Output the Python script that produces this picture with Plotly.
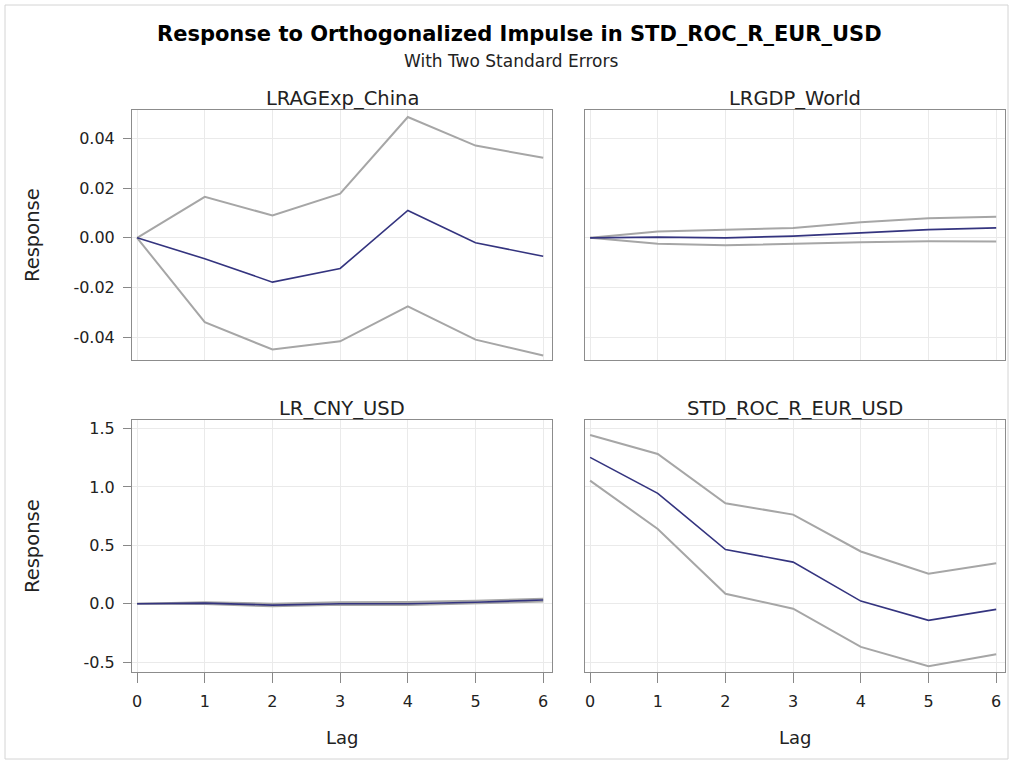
import plotly.graph_objects as go

W, H = 1013, 764

lags = [0, 1, 2, 3, 4, 5, 6]

# LRAGExp_China
china_mid = [0.0, -0.0084, -0.0178, -0.0123, 0.0110, -0.0020, -0.0074]
china_up = [0.0, 0.0165, 0.0090, 0.0178, 0.0486, 0.0371, 0.0322]
china_lo = [0.0, -0.0339, -0.0449, -0.0416, -0.0275, -0.0409, -0.0473]

# LRGDP_World
world_mid = [0.0, 0.0003, 0.0000, 0.0007, 0.0020, 0.0033, 0.0040]
world_up = [0.0, 0.0026, 0.0033, 0.0040, 0.0063, 0.0079, 0.0085]
world_lo = [0.0, -0.0024, -0.0030, -0.0023, -0.0018, -0.0014, -0.0015]

# LR_CNY_USD
cny_mid = [0.0, 0.005, -0.012, 0.000, 0.000, 0.012, 0.032]
cny_up = [0.0, 0.012, 0.000, 0.012, 0.015, 0.025, 0.042]
cny_lo = [0.0, -0.003, -0.022, -0.010, -0.012, 0.000, 0.018]

# STD_ROC_R_EUR_USD
eur_mid = [1.253, 0.945, 0.464, 0.356, 0.022, -0.143, -0.049]
eur_up = [1.444, 1.282, 0.860, 0.763, 0.447, 0.256, 0.347]
eur_lo = [1.054, 0.640, 0.085, -0.043, -0.370, -0.536, -0.433]

panel_titles = ["LRAGExp_China", "LRGDP_World", "LR_CNY_USD", "STD_ROC_R_EUR_USD"]

top_ticks = [-0.04, -0.02, 0.0, 0.02, 0.04]
top_ticktext = ["-0.04", "-0.02", "0.00", "0.02", "0.04"]
bot_ticks = [-0.5, 0.0, 0.5, 1.0, 1.5]
bot_ticktext = ["-0.5", "0.0", "0.5", "1.0", "1.5"]
x_ticks = lags
x_ticktext = [str(v) for v in lags]

title_text = "Response to Orthogonalized Impulse in STD_ROC_R_EUR_USD"
subtitle_text = "With Two Standard Errors"
y_label = "Response"
x_label = "Lag"

GRAY = "#A6A6A6"
NAVY = "#34347F"
FONT = "DejaVu Sans, Arial, sans-serif"
TXT = "#222222"

# panel pixel boxes: (x0, x1, y0, y1)
boxes = [(132, 552, 110, 360), (585, 1005, 110, 360),
         (132, 552, 420, 672), (585, 1005, 420, 672)]

fig = go.Figure()

series = [(china_up, china_lo, china_mid),
          (world_up, world_lo, world_mid),
          (cny_up, cny_lo, cny_mid),
          (eur_up, eur_lo, eur_mid)]

for i, (up, lo, mid) in enumerate(series):
    xa = "x" if i == 0 else f"x{i+1}"
    ya = "y" if i == 0 else f"y{i+1}"
    for ys in (up, lo):
        fig.add_trace(go.Scatter(x=lags, y=ys, mode="lines", xaxis=xa, yaxis=ya,
                                 line=dict(color=GRAY, width=2), showlegend=False,
                                 hoverinfo="skip"))
    fig.add_trace(go.Scatter(x=lags, y=mid, mode="lines", xaxis=xa, yaxis=ya,
                             line=dict(color=NAVY, width=1.6), showlegend=False))

layout = {}
for i, (x0, x1, y0, y1) in enumerate(boxes):
    suffix = "" if i == 0 else str(i + 1)
    top = i < 2
    left = i % 2 == 0
    layout["xaxis" + suffix] = dict(
        domain=[x0 / W, x1 / W], anchor="y" + suffix, range=[-0.075, 6.13],
        tickvals=x_ticks, ticktext=x_ticktext, showticklabels=not top,
        ticks="" if top else "outside", ticklen=10, tickcolor="#888888",
        ticklabelstandoff=5,
        showgrid=True, gridcolor="#EAEAEA", gridwidth=1, zeroline=False,
        showline=True, linecolor="#8C8C8C", linewidth=1, mirror=True,
        tickfont=dict(family=FONT, size=16, color=TXT),
    )
    layout["yaxis" + suffix] = dict(
        domain=[1 - y1 / H, 1 - y0 / H], anchor="x" + suffix,
        range=[-0.0491, 0.0514] if top else [-0.585, 1.573],
        tickvals=top_ticks if top else bot_ticks,
        ticktext=top_ticktext if top else bot_ticktext,
        showticklabels=left, ticks="outside" if left else "", ticklen=8, tickcolor="#888888",
        ticklabelstandoff=5,
        showgrid=True, gridcolor="#EAEAEA", gridwidth=1, zeroline=False,
        showline=True, linecolor="#8C8C8C", linewidth=1, mirror=True,
        tickfont=dict(family=FONT, size=16, color=TXT),
    )

annotations = [
    dict(text="<b>" + title_text + "</b>", x=519 / W, y=1 - 34 / H, xref="paper", yref="paper",
         showarrow=False, font=dict(family=FONT, size=21, color="#000000"), xanchor="center", yanchor="middle"),
    dict(text=subtitle_text, x=511 / W, y=1 - 61 / H, xref="paper", yref="paper",
         showarrow=False, font=dict(family=FONT, size=17, color=TXT), xanchor="center", yanchor="middle"),
]
for t, (x0, x1, y0, y1) in zip(panel_titles, boxes):
    annotations.append(dict(text=t, x=(x0 + x1) / 2 / W, y=1 - (y0 - 12) / H, xref="paper", yref="paper",
                            showarrow=False, font=dict(family=FONT, size=19.5, color=TXT),
                            xanchor="center", yanchor="middle"))
for i, (x0, x1, y0, y1) in enumerate(boxes):
    if i % 2 == 0:
        annotations.append(dict(text=y_label, x=32 / W, y=1 - (y0 + y1) / 2 / H, xref="paper", yref="paper",
                                showarrow=False, textangle=-90, font=dict(family=FONT, size=19.5, color=TXT),
                                xanchor="center", yanchor="middle"))
    if i >= 2:
        annotations.append(dict(text=x_label, x=(x0 + x1) / 2 / W, y=1 - 737 / H, xref="paper", yref="paper",
                                showarrow=False, font=dict(family=FONT, size=18, color=TXT),
                                xanchor="center", yanchor="middle"))

fig.update_layout(
    width=W, height=H, margin=dict(l=0, r=0, t=0, b=0),
    paper_bgcolor="white", plot_bgcolor="white",
    annotations=annotations,
    shapes=[dict(type="rect", xref="paper", yref="paper", x0=5 / W, x1=1008 / W,
                 y0=1 - 759 / H, y1=1 - 5 / H, line=dict(color="#D4D4D4", width=1))],
    **layout,
)

fig.write_html("out.html", config={"displayModeBar": False},
               post_script="document.body.style.margin='0';document.body.style.overflow='hidden';")
